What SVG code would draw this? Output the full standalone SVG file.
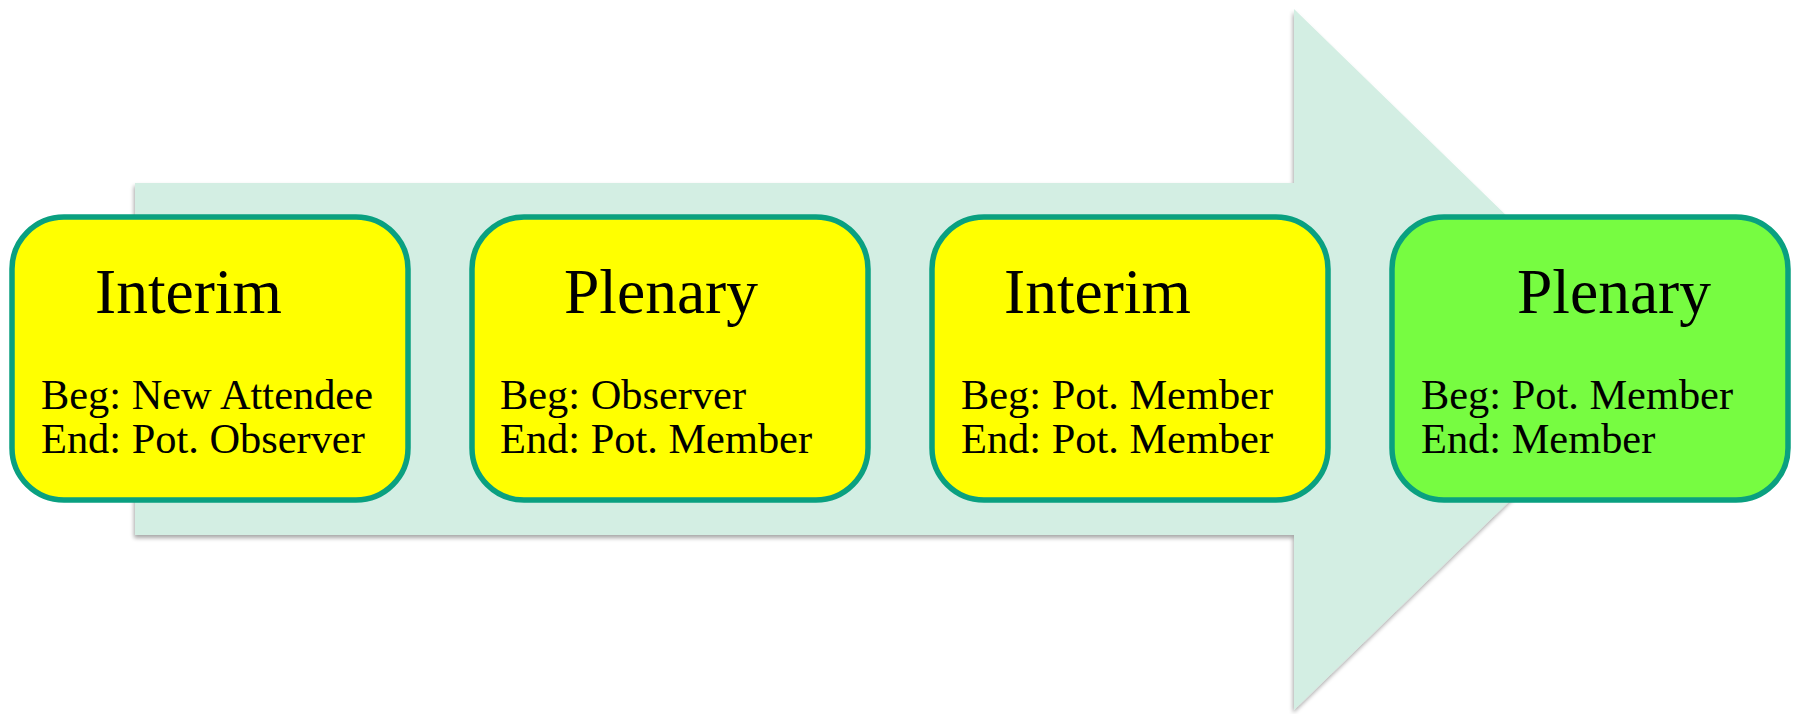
<svg xmlns="http://www.w3.org/2000/svg" width="1795" height="714" viewBox="0 0 1795 714">
<defs>
<filter id="sh" x="-5%" y="-5%" width="110%" height="110%">
<feGaussianBlur in="SourceAlpha" stdDeviation="2"/>
<feOffset dx="-1" dy="3" result="b"/>
<feComponentTransfer><feFuncA type="linear" slope="0.35"/></feComponentTransfer>
<feMerge><feMergeNode/><feMergeNode in="SourceGraphic"/></feMerge>
</filter>
</defs>
<style>
.box{stroke:#0aa080;stroke-width:5.5}
.y{fill:#ffff00}
.g{fill:#77fc41}
.t{font-family:"Liberation Serif","Times New Roman",serif;fill:#000}
.h{font-size:63.5px}
.b{font-size:42.4px}
</style>
<rect width="1795" height="714" fill="#fff"/>
<g id="arrow">
<polygon points="135,183 1294,183 1294,9 1655,360 1294,710 1294,535 135,535" fill="#d3eee3" filter="url(#sh)"/>
</g>
<g id="connectors"></g>
<g id="n1">
<rect class="box y" x="12" y="217" width="396" height="283" rx="52"/>
<text class="t h" x="95" y="313">Interim</text>
<text class="t b" x="41" y="409">Beg: New Attendee</text>
<text class="t b" x="41" y="453">End: Pot. Observer</text>
</g>
<g id="n2">
<rect class="box y" x="472" y="217" width="396" height="283" rx="52"/>
<text class="t h" x="564" y="313">Plenary</text>
<text class="t b" x="500" y="409">Beg: Observer</text>
<text class="t b" x="500" y="453">End: Pot. Member</text>
</g>
<g id="n3">
<rect class="box y" x="932" y="217" width="396" height="283" rx="52"/>
<text class="t h" x="1004" y="313">Interim</text>
<text class="t b" x="961" y="409">Beg: Pot. Member</text>
<text class="t b" x="961" y="453">End: Pot. Member</text>
</g>
<g id="n4">
<rect class="box g" x="1392" y="217" width="396" height="283" rx="52"/>
<text class="t h" x="1517" y="313">Plenary</text>
<text class="t b" x="1421" y="409">Beg: Pot. Member</text>
<text class="t b" x="1421" y="453">End: Member</text>
</g>
</svg>
